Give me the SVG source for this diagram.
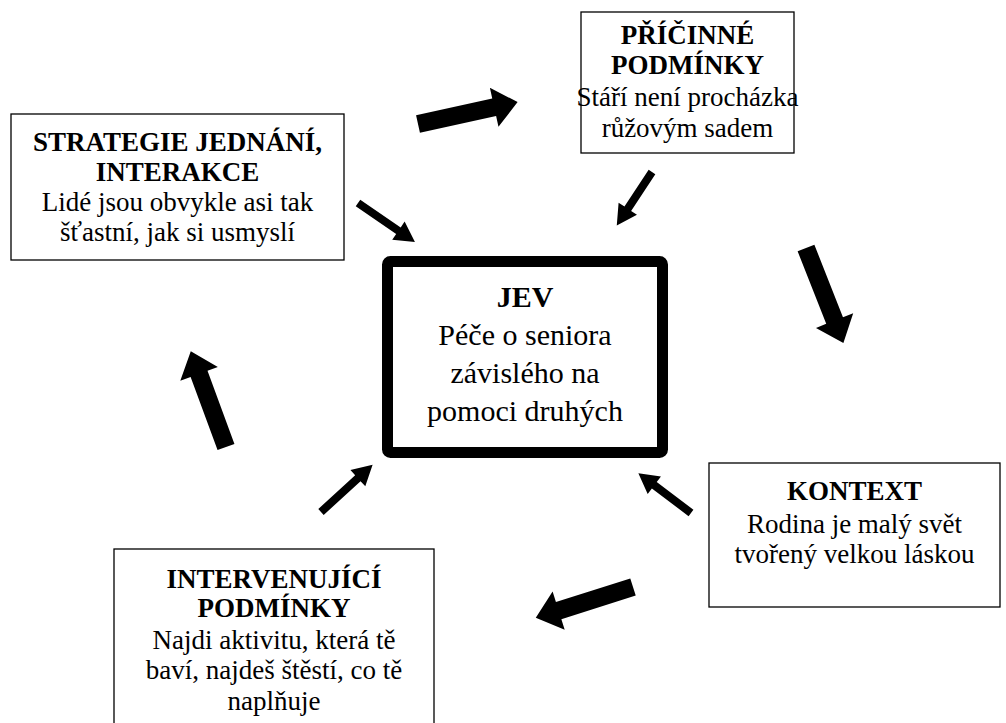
<svg xmlns="http://www.w3.org/2000/svg" width="1006" height="723" viewBox="0 0 1006 723">
<style>
.box{fill:#fff;stroke:#000;stroke-width:1.3}
.t{font-family:"Liberation Serif","Times New Roman",serif;font-size:27px;text-anchor:middle;fill:#000}
.b{font-weight:bold}
.j{font-size:30px}
.arr{fill:#000}
</style>
<defs>
<polygon id="big" points="0,-9 78,-9 78,-20 102,0 78,20 78,9 0,9"/>
</defs>
<rect width="1006" height="723" fill="#fff"/>
<g id="connectors" class="arr">
<use href="#big" transform="translate(418,124) rotate(-12.4)"/>
<use href="#big" transform="translate(806,248) rotate(68.5)"/>
<use href="#big" transform="translate(633,587) rotate(162.4)"/>
<use href="#big" transform="translate(226,447) rotate(-110.2)"/>
<polygon points="0,-4 49,-4 49,-11 69,0 49,11 49,4 0,4" transform="translate(358,203) rotate(34.4)"/>
<polygon points="0,-4 44,-4 44,-11 64,0 44,11 44,4 0,4" transform="translate(652,172) rotate(123.4)"/>
<polygon points="0,-4 50,-4 50,-11 70,0 50,11 50,4 0,4" transform="translate(321,512) rotate(-42.5)"/>
<polygon points="0,-4 46,-4 46,-11 66,0 46,11 46,4 0,4" transform="translate(691,513) rotate(-142.9)"/>
</g>
<g id="strategie">
<rect class="box" x="11" y="114" width="333" height="146"/>
<text class="t b" x="177.5" y="151">STRATEGIE JEDNÁNÍ,</text>
<text class="t b" x="177.5" y="181">INTERAKCE</text>
<text class="t" x="177.5" y="211">Lidé jsou obvykle asi tak</text>
<text class="t" x="177.5" y="241">šťastní, jak si usmyslí</text>
</g>
<g id="pricinne">
<rect class="box" x="581" y="12" width="213" height="141"/>
<text class="t b" x="687.5" y="44">PŘÍČINNÉ</text>
<text class="t b" x="687.5" y="74">PODMÍNKY</text>
<text class="t" x="687.5" y="106">Stáří není procházka</text>
<text class="t" x="687.5" y="137">růžovým sadem</text>
</g>
<g id="jev">
<rect x="387.5" y="261.5" width="275" height="191" rx="3" fill="#fff" stroke="#000" stroke-width="11"/>
<text class="t j b" x="525" y="307">JEV</text>
<text class="t j" x="525" y="345">Péče o seniora</text>
<text class="t j" x="525" y="383">závislého na</text>
<text class="t j" x="525" y="421">pomoci druhých</text>
</g>
<g id="kontext">
<rect class="box" x="709" y="463" width="291" height="144"/>
<text class="t b" x="854.5" y="500">KONTEXT</text>
<text class="t" x="854.5" y="533">Rodina je malý svět</text>
<text class="t" x="854.5" y="563">tvořený velkou láskou</text>
</g>
<g id="intervenujici">
<rect class="box" x="114" y="549" width="320" height="190"/>
<text class="t b" x="274" y="588">INTERVENUJÍCÍ</text>
<text class="t b" x="274" y="617">PODMÍNKY</text>
<text class="t" x="274" y="649">Najdi aktivitu, která tě</text>
<text class="t" x="274" y="679">baví, najdeš štěstí, co tě</text>
<text class="t" x="274" y="710">naplňuje</text>
</g>
</svg>
